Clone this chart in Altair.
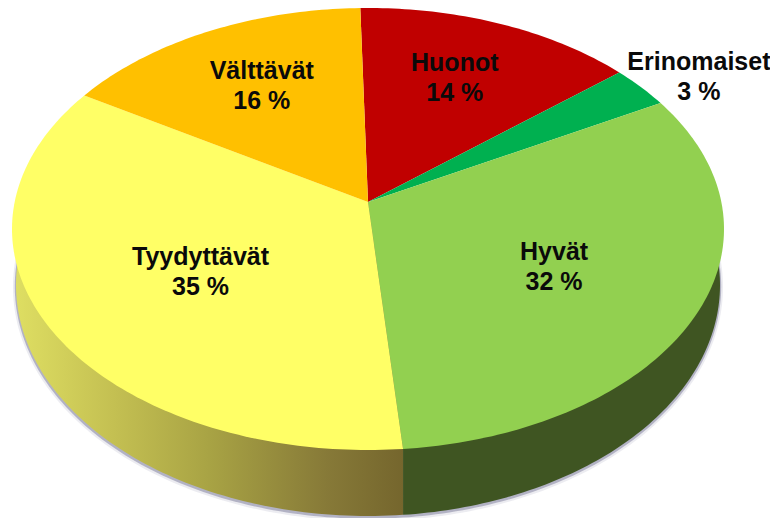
import math
import altair as alt

# Chart values (printed labels are rounded)
categories = ["Huonot", "Erinomaiset", "Hyvät", "Tyydyttävät", "Välttävät"]
percents = [14.3, 3.1, 31.6, 35.1, 15.9]
colors = ["#C00000", "#00B050", "#92D050", "#FFFF66", "#FFC000"]
percent_labels = ["14 %", "3 %", "32 %", "35 %", "16 %"]

# Styling and layout of the 3D disc (pixels inside the chart view)
START_DEG = -1.4
TOP = dict(cx=360.0, cy=221.0, rx=356.0, ry=221.0, k=0.122)
BOTTOM = dict(cx=360.0, cy=277.0, rx=352.0, ry=231.0)
label_radius = [0.672, 1.185, 0.582, 0.548, 0.659]
label_turn = [-1.2, 2.6, 1.0, -1.8, 0.8]


def project(radius, deg):
    """Perspective view of a point of the flat disc (0 deg = away from viewer)."""
    t = math.radians(deg)
    x, y = radius * math.sin(t), radius * math.cos(t)
    k = TOP["k"]
    d = 1 + k * y
    return [TOP["cx"] + TOP["rx"] * x * math.sqrt(1 - k * k) / d,
            TOP["cy"] - TOP["ry"] * (y + k) / d]


def polygon(points, **props):
    ring = points + [points[0]]
    return {"type": "Feature", "properties": props,
            "geometry": {"type": "Polygon", "coordinates": [ring]}}


def rim(from_deg, to_deg, grow=0.0, dy=0.0, steps=90):
    pts = []
    for i in range(steps + 1):
        t = math.radians(from_deg + (to_deg - from_deg) * i / steps)
        pts.append([BOTTOM["cx"] + (BOTTOM["rx"] + grow) * math.sin(t),
                    BOTTOM["cy"] + dy + (BOTTOM["ry"] + grow) * -math.cos(t)])
    return pts


# Top slices and label anchors, from the percentages
slices, labels = [], []
angle = START_DEG
for name, pct, pct_text, r, turn in zip(categories, percents, percent_labels, label_radius, label_turn):
    sweep = pct * 3.6
    n = max(4, int(sweep))
    arc = [project(1, angle + sweep * i / n) for i in range(n + 1)]
    slices.append(polygon([project(0, 0)] + arc, name=name))
    px, py = project(r, angle + sweep / 2 + turn)
    labels.append({"name": name, "pct": pct_text, "px": px, "py": py})
    angle += sweep

split_angle = START_DEG + sum(percents[:3]) * 3.6
split_x = project(1, split_angle)[0]
split_deg = 180 - math.degrees(math.asin((split_x - BOTTOM["cx"]) / BOTTOM["rx"]))

yellow_side = polygon(rim(split_deg, 278) + [project(0, 0)] + [project(1, split_angle)])
green_side = polygon(rim(82, split_deg) + [project(1, split_angle)] + [project(0, 0)])
shadow_outer = polygon(rim(80, 280, grow=3, dy=2, steps=180))
shadow_inner = polygon(rim(80, 280, grow=1.2, dy=1.5, steps=180))

projection = dict(type="identity", scale=1, translate=[0, 0])


def shape(features, **mark):
    return alt.Chart(alt.Data(values=features)).mark_geoshape(
        filled=True, strokeWidth=0, **mark
    ).project(**projection)


side_gradient = alt.Gradient(
    gradient="linear", x1=0, x2=1, y1=0, y2=0,
    stops=[
        alt.GradientStop(offset=0.0, color="#DEDE62"),
        alt.GradientStop(offset=0.25, color="#C4C052"),
        alt.GradientStop(offset=0.5, color="#A8A344"),
        alt.GradientStop(offset=0.8, color="#877A38"),
        alt.GradientStop(offset=1.0, color="#75662D"),
    ],
)

layers = [
    shape([shadow_outer], fill="#C9C9D6", opacity=0.35),
    shape([shadow_inner], fill="#9A9AB0", opacity=0.7),
    shape([yellow_side], fill=side_gradient),
    shape([green_side], fill="#3F5522"),
    shape(slices).encode(
        color=alt.Color("properties.name:N",
                        scale=alt.Scale(domain=categories, range=colors),
                        legend=None)
    ),
]

text_font = dict(font="Liberation Sans", fontWeight="bold", fontSize=25,
                 color="#0A0A0A", baseline="middle", align="center")
label_base = alt.Chart(alt.Data(values=labels)).encode(
    longitude="px:Q", latitude="py:Q"
).project(**projection)
layers.append(label_base.mark_text(dy=-14, **text_font).encode(text="name:N"))
layers.append(label_base.mark_text(dy=16, **text_font).encode(text="pct:N"))

chart = alt.layer(*layers).properties(
    width=762, height=510, padding=0, background="white",
    autosize=alt.AutoSizeParams(type="none"),
).configure_view(stroke=None)

chart.save("out.html", embed_options={"renderer": "svg", "actions": False})
